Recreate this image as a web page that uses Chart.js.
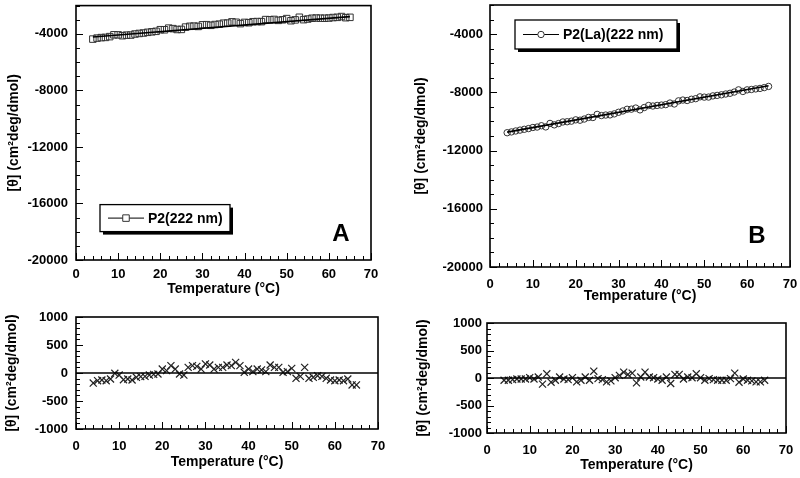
<!DOCTYPE html>
<html>
<head>
<meta charset="utf-8">
<script src="https://cdn.jsdelivr.net/npm/chart.js@4/dist/chart.umd.min.js"></script>
<style>
  body { margin: 0; background: #fff; }
  #wrap { position: relative; width: 800px; height: 478px; overflow: hidden; background: #fff; }
  canvas { position: absolute; }
</style>
</head>
<body>
<div id="wrap">
  <canvas id="panelA" width="400" height="300" style="left:0;top:0"></canvas>
  <canvas id="panelB" width="400" height="310" style="left:400px;top:0"></canvas>
  <canvas id="residA" width="400" height="178" style="left:0;top:300px"></canvas>
  <canvas id="residB" width="400" height="178" style="left:400px;top:300px"></canvas>
</div>
<script>
// temperatures (°C)
const temps = [4, 5, 6, 7, 8, 9, 10, 11, 12, 13, 14, 15, 16, 17, 18, 19, 20, 21, 22, 23,
  24, 25, 26, 27, 28, 29, 30, 31, 32, 33, 34, 35, 36, 37, 38, 39, 40, 41, 42, 43,
  44, 45, 46, 47, 48, 49, 50, 51, 52, 53, 54, 55, 56, 57, 58, 59, 60, 61, 62, 63, 64, 65];

// P2 (222 nm)
const thetaA = [-4370, -4300, -4265, -4250, -4195, -4065, -4070, -4130, -4090, -4085,
  -4010, -3970, -3940, -3890, -3855, -3820, -3705, -3710, -3595, -3630,
  -3690, -3685, -3520, -3465, -3450, -3475, -3360, -3350, -3395, -3340,
  -3315, -3245, -3235, -3150, -3180, -3275, -3190, -3210, -3140, -3130,
  -3135, -2990, -3005, -2980, -3045, -3005, -2920, -3070, -3010, -2825,
  -2995, -2950, -2895, -2880, -2890, -2895, -2880, -2845, -2830, -2775,
  -2855, -2830];
const residA = [-179, -137, -125, -137, -107, -5, -36, -120, -107, -125,
  -77, -65, -60, -36, -24, -18, 71, 42, 131, 71,
  -18, -36, 101, 131, 119, 71, 161, 143, 71, 101,
  101, 143, 131, 190, 131, 12, 71, 24, 71, 54,
  24, 143, 101, 101, 12, 24, 83, -95, -60, 101,
  -95, -77, -48, -60, -95, -125, -137, -125, -137, -107,
  -214, -214];

// P2(La) (222 nm)
const thetaB = [-10775, -10720, -10655, -10595, -10540, -10490, -10415, -10385, -10295, -10375,
  -10135, -10235, -10145, -10035, -10020, -9980, -9890, -9915, -9835, -9725,
  -9730, -9515, -9595, -9560, -9550, -9480, -9370, -9280, -9165, -9155,
  -9080, -9205, -9045, -8905, -8940, -8900, -8875, -8845, -8735, -8800,
  -8585, -8530, -8560, -8475, -8435, -8310, -8330, -8325, -8245, -8210,
  -8170, -8115, -8065, -7980, -7830, -7940, -7830, -7805, -7765, -7730,
  -7675, -7595];
const residB = [-41, -41, -29, -18, -18, -18, 6, -18, 18, -112,
  76, -76, -41, 18, -18, -29, 6, -71, -41, 18,
  -41, 124, -12, -29, -71, -53, 6, 47, 106, 65,
  88, -88, 18, 106, 18, 6, -18, -41, 18, -100,
  65, 65, -18, 18, 6, 76, 6, -41, -12, -29,
  -41, -41, -41, -12, 88, -76, -18, -41, -53, -71,
  -71, -41];

// linear fits (end points at 4 and 65 °C)
const fitT = [4, 65];
const fitA = [-4220, -2780];
const fitB = [-10732, -7553];

// tick labels
const xTicks = [0, 10, 20, 30, 40, 50, 60, 70];
const yTicksTop = [-20000, -16000, -12000, -8000, -4000];
const yTicksRes = [-1000, -500, 0, 500, 1000];

const FONT = '"Liberation Sans", Arial, sans-serif';
Chart.defaults.font.family = FONT;
Chart.defaults.font.weight = 'bold';
Chart.defaults.color = '#000';

// frame, inward ticks, zero line, legend box and panel letter
const frame = {
  id: 'frame',
  afterDatasetsDraw(chart, args, opts) {
    const { ctx, chartArea: a, scales: { x, y } } = chart;
    ctx.save();
    ctx.strokeStyle = '#000';
    ctx.lineWidth = 1;
    const n = Math.round((x.max - x.min) / opts.xMinor);
    for (let i = 0; i <= n; i++) {
      const v = x.min + i * opts.xMinor;
      const px = Math.round(x.getPixelForValue(v)) + 0.5;
      const len = Math.abs(v % opts.xMajor) < 1e-6 ? 7 : 4;
      ctx.beginPath(); ctx.moveTo(px, a.bottom); ctx.lineTo(px, a.bottom - len); ctx.stroke();
    }
    const m = Math.round((y.max - y.min) / opts.yMinor);
    for (let i = 0; i <= m; i++) {
      const v = y.min + i * opts.yMinor;
      const py = Math.round(y.getPixelForValue(v)) + 0.5;
      const len = Math.abs(v % opts.yMajor) < 1e-6 ? 7 : 4;
      ctx.beginPath(); ctx.moveTo(a.left, py); ctx.lineTo(a.left + len, py); ctx.stroke();
    }
    if (opts.zero) {
      const py = y.getPixelForValue(0);
      ctx.lineWidth = 1.3;
      ctx.beginPath(); ctx.moveTo(a.left, py); ctx.lineTo(a.right, py); ctx.stroke();
    }
    ctx.lineWidth = 1.6;
    ctx.strokeRect(a.left, a.top, a.right - a.left, a.bottom - a.top);

    const L = opts.legend;
    if (L) {
      const lx = a.left + L.x, ly = a.top + L.y;
      ctx.fillStyle = '#000';
      ctx.fillRect(lx + 3, ly + 3, L.w, L.h);
      ctx.fillStyle = '#fff';
      ctx.fillRect(lx, ly, L.w, L.h);
      ctx.lineWidth = 1.3;
      ctx.strokeRect(lx, ly, L.w, L.h);
      const cy = ly + L.h / 2;
      ctx.lineWidth = 1;
      ctx.beginPath(); ctx.moveTo(lx + 8, cy); ctx.lineTo(lx + 44, cy); ctx.stroke();
      ctx.fillStyle = '#fff';
      ctx.strokeStyle = '#333';
      Chart.helpers.drawPoint(ctx, { pointStyle: L.style, radius: L.radius, borderWidth: 1 }, lx + 26, cy);
      ctx.fillStyle = '#000';
      ctx.font = 'bold 14px ' + FONT;
      ctx.textBaseline = 'middle';
      ctx.textAlign = 'left';
      ctx.fillText(L.text, lx + 48, cy + 1);
    }
    const T = opts.letter;
    if (T) {
      ctx.fillStyle = '#000';
      ctx.font = 'bold 24px ' + FONT;
      ctx.textAlign = 'center';
      ctx.textBaseline = 'middle';
      ctx.fillText(T.text, a.left + T.x, a.top + T.y);
    }
    ctx.restore();
  }
};

function points(ys) {
  return temps.map((t, i) => ({ x: t, y: ys[i] }));
}

function makeChart(id, cfg) {
  return new Chart(document.getElementById(id), {
    type: 'scatter',
    data: { datasets: cfg.datasets },
    options: {
      responsive: false,
      animation: false,
      events: [],
      layout: { padding: cfg.padding },
      plugins: {
        legend: { display: false },
        tooltip: { enabled: false },
        frame: cfg.frame
      },
      scales: {
        x: {
          min: 0, max: 70,
          grid: { display: false, drawTicks: false },
          border: { display: false },
          afterBuildTicks: s => { s.ticks = xTicks.map(v => ({ value: v })); },
          afterFit: s => { s.height = cfg.xHeight; s.paddingLeft = 0; s.paddingRight = 0; },
          ticks: { padding: cfg.xPad, font: { size: 13, weight: 'bold' }, callback: v => String(v), maxRotation: 0 },
          title: { display: true, text: 'Temperature (°C)', font: { size: 14, weight: 'bold' }, padding: { top: 0, bottom: cfg.xTitlePad } }
        },
        y: {
          min: cfg.yMin, max: cfg.yMax,
          grid: { display: false, drawTicks: false },
          border: { display: false },
          afterBuildTicks: s => { s.ticks = cfg.yTicks.map(v => ({ value: v })); },
          afterFit: s => { s.width = cfg.yWidth; s.paddingTop = 0; s.paddingBottom = 0; },
          ticks: { padding: cfg.yPad, font: { size: 13, weight: 'bold' }, callback: v => String(v) },
          title: { display: true, text: '[θ] (cm²deg/dmol)', font: { size: 14, weight: 'bold' }, padding: { top: cfg.yTitlePad, bottom: 0 } }
        }
      }
    },
    plugins: [frame]
  });
}

function fitLine(vals) {
  return {
    data: [{ x: fitT[0], y: vals[0] }, { x: fitT[1], y: vals[1] }],
    showLine: true, borderColor: '#000', borderWidth: 1.6, pointRadius: 0
  };
}

makeChart('panelA', {
  datasets: [
    fitLine(fitA),
    { data: points(thetaA), pointStyle: 'rect', pointRadius: 4.6, borderColor: '#333', borderWidth: 1, backgroundColor: 'rgba(0,0,0,0)' }
  ],
  padding: { left: 0, right: 29, top: 4, bottom: 0 },
  xHeight: 40, yWidth: 76, xPad: 7, yPad: 8, xTitlePad: 2, yTitlePad: 6,
  yMin: -20000, yMax: -2000, yTicks: yTicksTop,
  frame: { xMinor: 2, xMajor: 10, yMinor: 1000, yMajor: 4000,
    legend: { x: 24, y: 199, w: 130, h: 27, text: 'P2(222 nm)', style: 'rect', radius: 4.6 },
    letter: { text: 'A', x: 265, y: 229 } }
});

makeChart('panelB', {
  datasets: [
    fitLine(fitB),
    { data: points(thetaB), pointStyle: 'circle', pointRadius: 3.2, borderColor: '#333', borderWidth: 1, backgroundColor: 'rgba(255,255,255,0)' }
  ],
  padding: { left: 0, right: 10, top: 4, bottom: 0 },
  xHeight: 43, yWidth: 90, xPad: 10, yPad: 7, xTitlePad: 5, yTitlePad: 13,
  yMin: -20000, yMax: -2000, yTicks: yTicksTop,
  frame: { xMinor: 2, xMajor: 10, yMinor: 1000, yMajor: 4000,
    legend: { x: 25, y: 15, w: 162, h: 29, text: 'P2(La)(222 nm)', style: 'circle', radius: 3.2 },
    letter: { text: 'B', x: 267, y: 231 } }
});

makeChart('residA', {
  datasets: [
    { data: points(residA), pointStyle: 'crossRot', pointRadius: 5, borderColor: '#222', borderWidth: 1.2 }
  ],
  padding: { left: 0, right: 22, top: 17, bottom: 0 },
  xHeight: 49, yWidth: 76, xPad: 10, yPad: 8, xTitlePad: 7, yTitlePad: 4,
  yMin: -1000, yMax: 1000, yTicks: yTicksRes,
  frame: { xMinor: 2, xMajor: 10, yMinor: 100, yMajor: 500, zero: true }
});

makeChart('residB', {
  datasets: [
    { data: points(residB), pointStyle: 'crossRot', pointRadius: 5, borderColor: '#222', borderWidth: 1.2 }
  ],
  padding: { left: 0, right: 14, top: 23, bottom: 0 },
  xHeight: 45, yWidth: 87, xPad: 10, yPad: 5, xTitlePad: 4, yTitlePad: 15,
  yMin: -1000, yMax: 1000, yTicks: yTicksRes,
  frame: { xMinor: 2, xMajor: 10, yMinor: 100, yMajor: 500, zero: true }
});
</script>
</body>
</html>
